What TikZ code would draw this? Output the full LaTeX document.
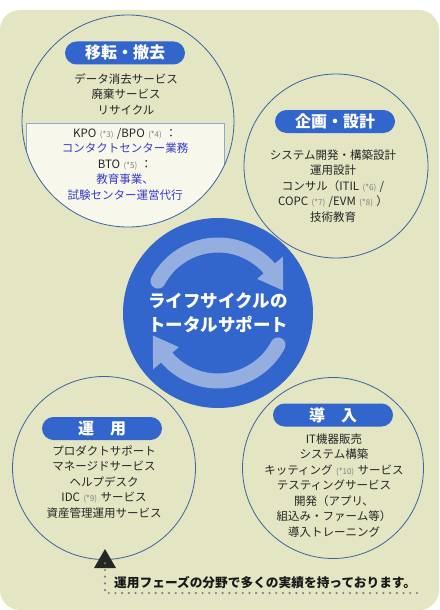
\documentclass[tikz,border=0pt]{standalone}
\usepackage{fontspec}
\setmainfont{Noto Sans CJK JP}
\usetikzlibrary{shapes.geometric}
\definecolor{khaki}{RGB}{228,229,195}
\definecolor{cream}{RGB}{247,247,236}
\definecolor{lifeblue}{RGB}{51,102,204}
\definecolor{paleblue}{RGB}{148,174,224}
\definecolor{ringblue}{RGB}{58,98,165}
\definecolor{boxblue}{RGB}{140,166,216}
\definecolor{inkgray}{RGB}{38,38,38}
\definecolor{linkblue}{RGB}{58,58,204}
\definecolor{dotgray}{RGB}{125,125,125}
\newcommand\notemark[1]{\hspace{0.3em}{\fontsize{8}{8}\selectfont\color{gray}(*#1)}\hspace{0.3em}}
\tikzset{
  phase/.style={
    draw=ringblue, line width=0.8pt,
    shape=circle,
    outer sep=0, inner sep=0,
    minimum size=#1
  },
  tag/.style={
    fill=lifeblue, text=white,
    rounded corners=11.5pt,
    minimum width=120pt, minimum height=23pt,
    inner sep=0,
    font=\fontsize{16}{16}\selectfont\bfseries
  },
  body/.style={
    text=inkgray, align=center, inner sep=0,
    font=\fontsize{11.5}{15.5}\selectfont
  },
  dotline/.style={
    dotgray, line width=2.4pt, line cap=round,
    dash pattern=on 0pt off 6.7pt
  }
}

\begin{document}
\begin{tikzpicture}[x=1pt,y=-1pt]
\useasboundingbox (0,0) rectangle (439,610);
\fill[khaki, rounded corners=20pt] (0,10) rectangle (439,610);

%%%%%%%%% light box in the first ring
\coordinate (retirec) at (128,121);
\begin{scope}
  \clip (retirec) circle[radius=106pt];
  \fill[cream] (26,123) rectangle (224,240);
  \draw[boxblue, line width=0.8pt] (26,240) -- (26,123) -- (224,123) -- (224,240);
\end{scope}

%%%%%%%%% four phase rings
\foreach \nm/\px/\py/\d in {retire/128/121/212, plan/336/166/184,
                            operate/104/468/183, deploy/333/468/181}
  \node[phase=\d pt] (\nm) at (\px,\py) {};

%%%%%%%%% hub with the two turning arrows
\node[circle, fill=lifeblue, minimum size=190pt, inner sep=0] (hub) at (218,313) {};
\newdimen\R
\R=68pt
\foreach \a in {0,180} {
  \draw[paleblue, line width=15pt, line cap=round]
    ([shift={(hub.center)}]{152+\a}:\R) arc[start angle=152+\a, end angle=41+\a, radius=\R];
  \fill[paleblue] ([shift={(hub.center)}]{41+\a}:52pt)
    -- ([shift={(hub.center)}]{41+\a}:86pt)
    -- ([shift={(hub.center)}]{19+\a}:69pt) -- cycle;
}
\node[text=white, align=center, font=\fontsize{17.5}{24}\selectfont\bfseries] (hubtxt) at (hub) {ライフサイクルの\\トータルサポート};

%%%%%%%%% labels
\node[tag] (retiretag) at (125,53) {移転・撤去};
\node[body] (retiretxt) at (126,94) {データ消去サービス\\廃棄サービス\\リサイクル};
\node[body] (retirebox) at (125,164) {KPO\notemark{3}/BPO\notemark{4}：\\
  \textcolor{linkblue}{コンタクトセンター業務}\\BTO\notemark{5}：\\
  \textcolor{linkblue}{教育事業、}\\\textcolor{linkblue}{試験センター運営代行}};

\node[tag] (plantag) at (335,121.5) {企画・設計};
\node[body] (plantxt) at (333,186) {システム開発・構築設計\\運用設計\\
  コンサル（ITIL\notemark{6}/\\COPC\notemark{7}/EVM\notemark{8}）\\技術教育};

\node[tag] (operatetag) at (102,428.5) {運　用};
\node[body] (operatetxt) at (104,482) {プロダクトサポート\\マネージドサービス\\
  ヘルプデスク\\IDC\notemark{9}サービス\\資産管理運用サービス};

\node[tag] (deploytag) at (333,415) {導　入};
\node[body] (deploytxt) at (334,485.5) {IT機器販売\\システム構築\\
  キッティング\notemark{10}サービス\\テスティングサービス\\開発（アプリ、\\
  組込み・ファーム等）\\導入トレーニング};

%%%%%%%%% pointer to the operation phase
\node[regular polygon, regular polygon sides=3, fill=inkgray,
      minimum size=25.4pt, inner sep=0] (pin) at (105,561.7) {};
\node[anchor=west, text=black!90, inner sep=0,
      font=\fontsize{12.7}{12.7}\selectfont\bfseries] (note) at (114,583) {運用フェーズの分野で多くの実績を持っております。};
\coordinate (dotend) at (421,593);
\draw[dotline] ([yshift=5pt]pin.south) |- (dotend);

\end{tikzpicture}
\end{document}
